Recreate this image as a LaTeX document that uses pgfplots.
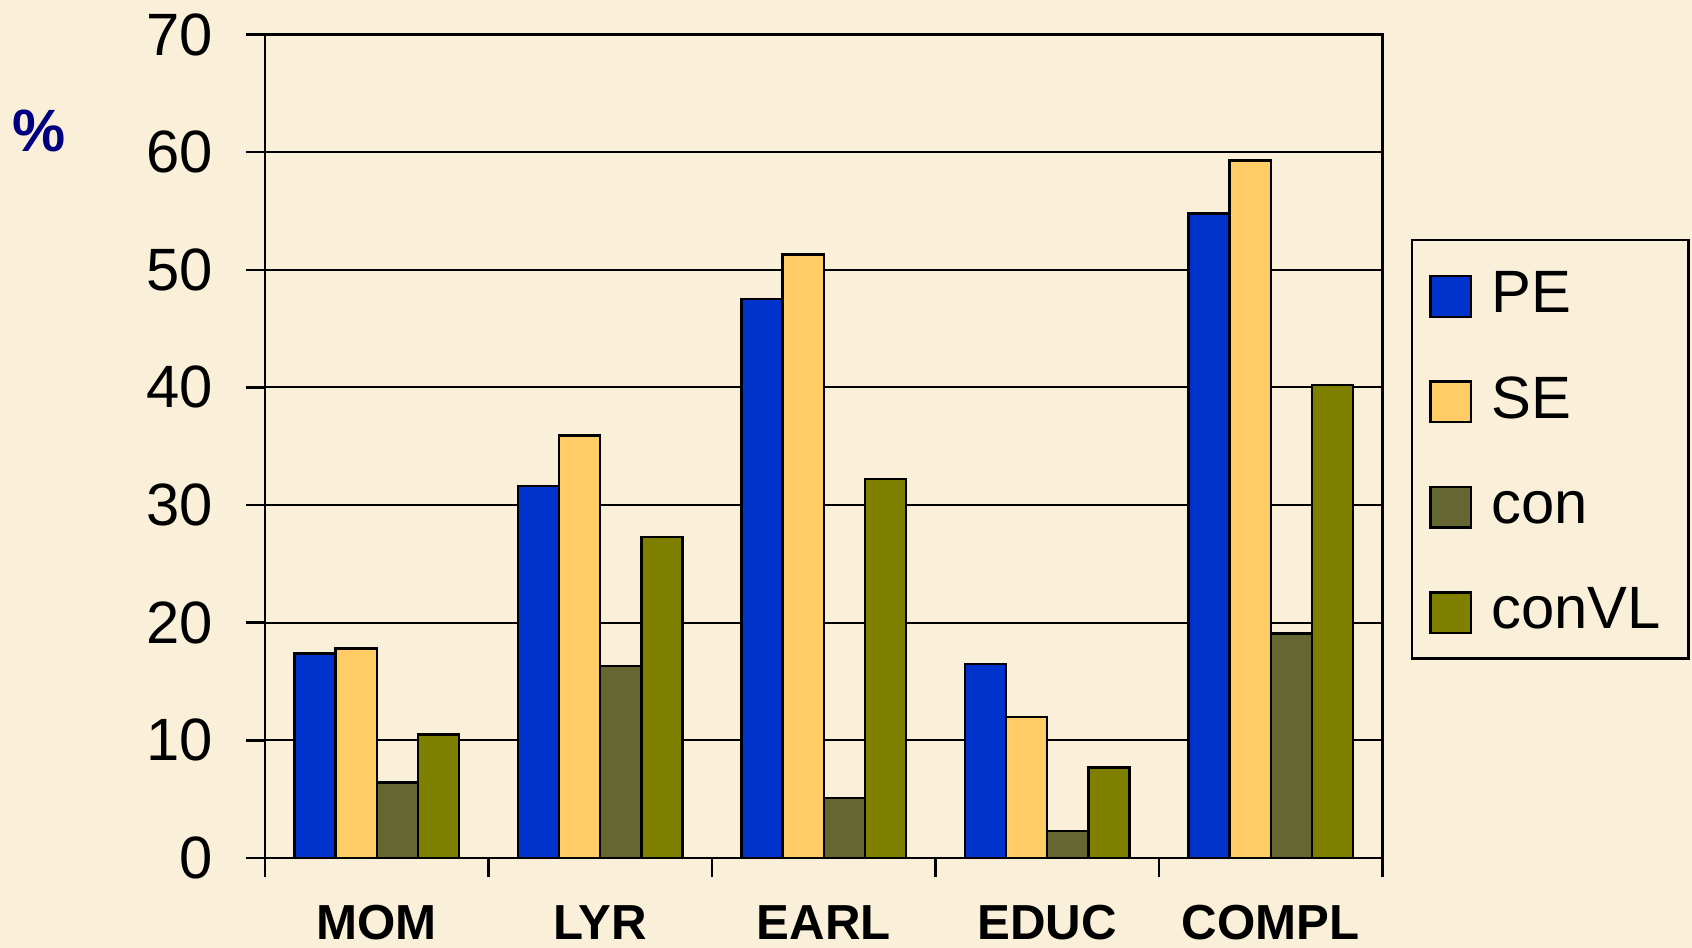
\documentclass[border=0pt]{standalone}
\usepackage{fontspec}
\setmainfont{Liberation Sans}
\usepackage{pgfplots}
\pgfplotsset{compat=1.18}

\definecolor{paper}{RGB}{250,240,218}
\definecolor{peblue}{HTML}{0033CC}
\definecolor{seyellow}{HTML}{FFCC66}
\definecolor{conolive}{HTML}{666633}
\definecolor{convl}{HTML}{808000}
\definecolor{navy}{HTML}{000080}

% square legend swatch, with a little room after it
\pgfplotsset{
  sq legend/.style={
    legend image code/.code={
      \draw[##1,line width=0.7pt] (0pt,-7.3pt) rectangle (11.6pt,4.3pt);
      \path (14.1pt,0pt);
    }
  }
}

\begin{document}
\begin{tikzpicture}
\fill[paper] (-2.65,-0.90) rectangle (14.27,8.58);
\useasboundingbox (-2.65,-0.90) rectangle (14.27,8.58);
\begin{axis}[
  at={(0,0)}, anchor=south west,
  scale only axis, width=11.175cm, height=8.235cm,
  ybar, bar width=0.184,
  xmin=-0.5, xmax=4.5, ymin=0, ymax=70,
  ytick={0,10,...,70},
  xtick={-0.5,0.5,...,4.5},
  x tick label as interval,
  xticklabels={MOM,LYR,EARL,EDUC,COMPL},
  xtick pos=bottom, ytick pos=left,
  tick align=outside,
  major tick length=0.19cm,
  ymajorgrids,
  grid style={black, line width=0.6pt},
  axis line style={black, line width=0.8pt},
  tick style={black, line width=0.7pt},
  /pgf/number format/assume math mode=true,
  yticklabel style={font=\fontsize{17}{20}\selectfont, xshift=-6pt},
  xticklabel style={font=\fontsize{14}{17}\selectfont\bfseries, yshift=-4.5pt},
  legend style={
    at={(1.0255,0.7517)}, anchor=north west,
    draw=black, line width=0.7pt, fill=none,
    font=\fontsize{17}{20}\selectfont,
    inner xsep=4.8pt, inner ysep=5.4pt,
    row sep=11.8pt,
    nodes={inner sep=3pt, text height=12.2pt, text depth=0pt},
  },
  legend cell align=left,
]
\addplot[fill=peblue, draw=black, line width=0.7pt, bar shift=-0.276, sq legend]
  coordinates {(0,17.4) (1,31.6) (2,47.5) (3,16.5) (4,54.8)};
\addplot[fill=seyellow, draw=black, line width=0.7pt, bar shift=-0.092, sq legend]
  coordinates {(0,17.8) (1,35.9) (2,51.3) (3,12.0) (4,59.3)};
\addplot[fill=conolive, draw=black, line width=0.7pt, bar shift=0.092, sq legend]
  coordinates {(0,6.4) (1,16.3) (2,5.1) (3,2.3) (4,19.1)};
\addplot[fill=convl, draw=black, line width=0.7pt, bar shift=0.276, sq legend]
  coordinates {(0,10.5) (1,27.3) (2,32.2) (3,7.7) (4,40.2)};
\legend{PE,SE,con,conVL}
\end{axis}
\node[font=\fontsize{17}{20}\selectfont\bfseries, text=navy] at (-2.255,7.27) {\%};
\end{tikzpicture}
\end{document}
